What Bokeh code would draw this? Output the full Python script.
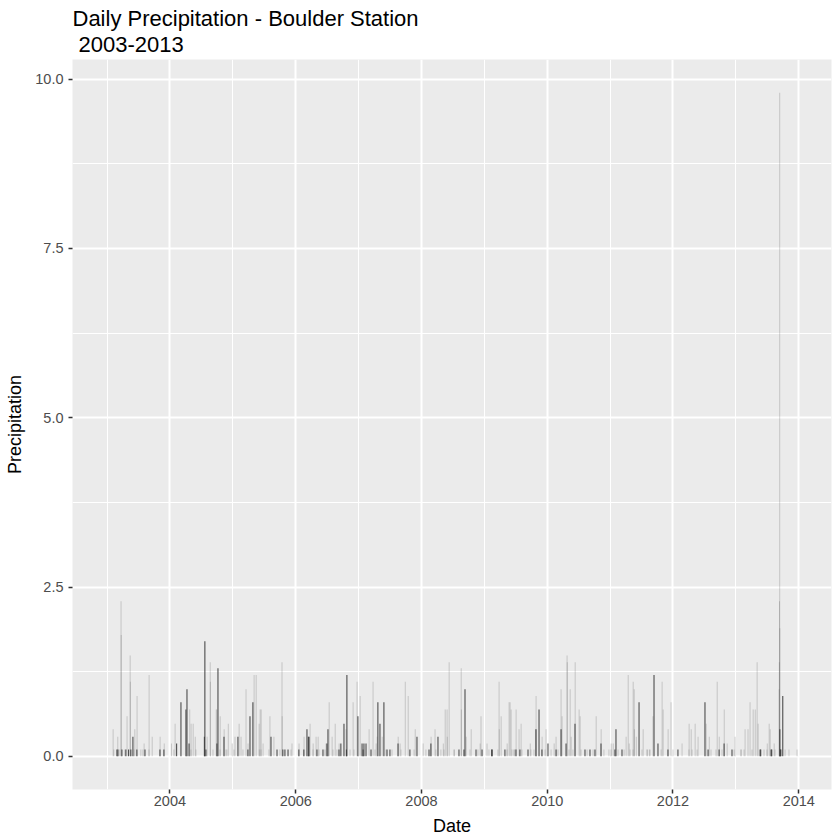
import pandas as pd
from bokeh.plotting import figure
from bokeh.models import (Range1d, FixedTicker, DatetimeTickFormatter,
                          NumeralTickFormatter, Title, ColumnDataSource)
from bokeh.embed import file_html
from bokeh.resources import INLINE

# ---- data (daily precipitation, inches) ----
light_dates = [
    "2003-03-23", "2003-03-24", "2003-05-15", "2003-05-16", "2003-06-24", "2003-04-27",
    "2003-09-02", "2003-02-05", "2003-03-04", "2003-06-11", "2003-08-04", "2003-09-20",
    "2003-11-05", "2003-11-29", "2004-01-10", "2004-01-31", "2004-04-25", "2004-05-03",
    "2004-05-15", "2004-05-27", "2004-08-04", "2004-08-22", "2004-08-23", "2004-09-26",
    "2004-09-30", "2004-10-19", "2004-11-11", "2004-12-05", "2004-12-28", "2005-01-13",
    "2005-02-06", "2005-02-17", "2005-03-18", "2005-03-30", "2005-05-04", "2005-05-16",
    "2005-06-02", "2005-06-08", "2005-06-14", "2005-06-25", "2005-08-04", "2005-08-27",
    "2005-10-13", "2005-10-14", "2005-12-10", "2006-01-20", "2006-02-18", "2006-03-25",
    "2006-04-12", "2006-04-29", "2006-05-11", "2006-06-26", "2006-07-14", "2006-07-31",
    "2006-08-18", "2006-09-10", "2006-10-20", "2006-11-30", "2006-12-23", "2007-01-10",
    "2007-03-03", "2007-03-26", "2007-04-13", "2007-04-19", "2007-05-18", "2007-08-19",
    "2007-08-30", "2007-09-29", "2007-10-16", "2007-11-26", "2008-01-11", "2008-02-26",
    "2008-03-20", "2008-05-07", "2008-05-18", "2008-05-29", "2008-05-30", "2008-06-10",
    "2008-07-10", "2008-08-19", "2008-08-20", "2008-09-17", "2008-10-16", "2008-12-07",
    "2008-12-12", "2009-01-16", "2009-03-27", "2009-03-28", "2009-04-08", "2009-05-13",
    "2009-05-24", "2009-05-30", "2009-06-05", "2009-06-23", "2009-07-04", "2009-07-21",
    "2009-08-02", "2009-09-24", "2009-10-28", "2009-10-29", "2009-12-02", "2009-12-25",
    "2010-02-10", "2010-02-21", "2010-03-22", "2010-03-28", "2010-04-26", "2010-04-27",
    "2010-05-14", "2010-05-20", "2010-06-12", "2010-07-05", "2010-07-11", "2010-10-12",
    "2010-11-10", "2011-01-07", "2011-01-19", "2011-04-04", "2011-04-16", "2011-04-22",
    "2011-05-15", "2011-05-21", "2011-05-22", "2011-06-02", "2011-07-12", "2011-08-05",
    "2011-08-17", "2011-09-07", "2011-10-30", "2011-11-05", "2011-12-04", "2011-12-21",
    "2012-02-23", "2012-04-04", "2012-04-16", "2012-05-09", "2012-05-26", "2012-07-12",
    "2012-07-30", "2012-09-14", "2012-09-26", "2012-10-25", "2012-11-11", "2012-12-27",
    "2013-01-31", "2013-02-23", "2013-03-12", "2013-03-24", "2013-04-11", "2013-04-23",
    "2013-05-04", "2013-05-10", "2013-07-02", "2013-07-13", "2013-07-19", "2013-08-11",
    "2013-09-09", "2013-09-12", "2013-09-11", "2013-09-13", "2013-09-10",
    # trace days
    "2003-02-09", "2003-03-16", "2003-04-14", "2003-06-06", "2003-07-16", "2003-07-28",
    "2003-09-01", "2004-01-24", "2004-05-02", "2004-05-31", "2004-09-07", "2004-10-18",
    "2004-11-21", "2004-11-27", "2005-01-07", "2005-02-28", "2005-06-03", "2005-06-13",
    "2005-07-29", "2005-10-01", "2005-12-04", "2006-04-11", "2006-05-16", "2006-06-19",
    "2006-08-05", "2006-08-28", "2006-11-12", "2006-12-05", "2007-04-06", "2007-06-09",
    "2007-07-14", "2007-09-04", "2007-11-19", "2008-01-27", "2008-03-25", "2008-04-23",
    "2008-05-11", "2008-07-08", "2008-10-09", "2008-11-24", "2009-01-27", "2009-03-20",
    "2009-05-12", "2009-06-10", "2009-06-22", "2009-08-07", "2009-09-28", "2009-10-16",
    "2009-12-19", "2010-01-23", "2010-03-04", "2010-05-07", "2010-05-30", "2010-07-16",
    "2010-08-20", "2010-09-24", "2010-11-26", "2010-12-25", "2011-01-06", "2011-02-16",
    "2011-03-23", "2011-04-27", "2011-05-14", "2011-07-05", "2011-08-03", "2011-08-21",
    "2011-10-24", "2012-01-01", "2012-04-03", "2012-04-21", "2012-05-20", "2012-08-09",
    "2012-09-07", "2012-10-12", "2012-12-21", "2013-01-30", "2013-02-17", "2013-04-04",
    "2013-06-13", "2013-06-30", "2013-08-16", "2013-10-13", "2013-11-05", "2013-12-22",
]
light_values = [
    2.29, 1.79, 1.49, 1.10, 0.89, 0.59,
    1.20, 0.40, 0.29, 0.40, 0.19, 0.29,
    0.29, 0.19, 0.19, 0.48, 0.69, 0.48,
    0.48, 0.29, 0.29, 1.39, 1.10, 0.69,
    0.69, 0.59, 0.40, 0.48, 0.19, 0.29,
    0.48, 0.29, 0.99, 0.19, 1.20, 1.20,
    0.48, 0.69, 0.69, 0.19, 0.59, 0.29,
    1.39, 0.59, 0.19, 0.19, 0.29, 0.48,
    0.19, 0.29, 0.29, 0.19, 0.80, 0.29,
    0.48, 0.19, 0.40, 0.80, 1.10, 0.89,
    0.40, 1.10, 0.19, 0.29, 0.29, 0.29,
    0.19, 1.10, 0.89, 0.40, 0.19, 0.29,
    0.40, 0.19, 0.69, 0.69, 0.29, 1.39,
    0.10, 1.30, 0.69, 0.29, 0.40, 0.19,
    0.59, 0.19, 1.10, 0.40, 0.59, 0.19,
    0.80, 0.80, 0.69, 0.10, 0.69, 0.40,
    0.48, 0.19, 0.89, 0.40, 0.29, 0.40,
    0.19, 0.29, 0.99, 0.59, 1.49, 1.39,
    0.99, 0.29, 1.39, 0.69, 0.59, 0.59,
    0.40, 0.19, 0.19, 0.29, 1.20, 0.19,
    1.10, 0.99, 0.40, 0.29, 0.40, 0.10,
    0.10, 0.59, 1.10, 0.69, 0.40, 0.80,
    0.19, 0.48, 0.40, 0.48, 0.29, 0.48,
    0.29, 1.10, 0.29, 0.69, 0.19, 0.29,
    0.10, 0.40, 0.40, 0.80, 0.69, 0.69,
    1.39, 0.48, 0.19, 0.48, 0.40, 0.19,
    0.99, 9.80, 2.29, 1.89, 1.39,
    0.10, 0.10, 0.10, 0.10, 0.10, 0.10,
    0.10, 0.10, 0.10, 0.10, 0.10, 0.10,
    0.10, 0.10, 0.10, 0.10, 0.10, 0.10,
    0.10, 0.10, 0.10, 0.10, 0.10, 0.10,
    0.10, 0.10, 0.10, 0.10, 0.10, 0.10,
    0.10, 0.10, 0.10, 0.10, 0.10, 0.10,
    0.10, 0.10, 0.10, 0.10, 0.10, 0.10,
    0.10, 0.10, 0.10, 0.10, 0.10, 0.10,
    0.10, 0.10, 0.10, 0.10, 0.10, 0.10,
    0.10, 0.10, 0.10, 0.10, 0.10, 0.10,
    0.10, 0.10, 0.10, 0.10, 0.10, 0.10,
    0.10, 0.10, 0.10, 0.10, 0.10, 0.10,
    0.10, 0.10, 0.10, 0.10, 0.10, 0.10,
    0.10, 0.10, 0.10, 0.10, 0.10, 0.10,
]

dark_dates = [
    "2003-02-27", "2003-03-05", "2003-03-28", "2003-04-20", "2003-05-06", "2003-05-19",
    "2003-05-31", "2003-06-23", "2003-08-09", "2003-11-04", "2003-11-27", "2004-02-09",
    "2004-03-05", "2004-04-03", "2004-04-09", "2004-04-21", "2004-07-19", "2004-07-22",
    "2004-07-28", "2004-09-30", "2004-10-06", "2004-11-10", "2005-01-30", "2005-03-29",
    "2005-04-10", "2005-04-27", "2005-08-10", "2005-09-14", "2005-10-18", "2005-10-30",
    "2005-11-17", "2006-01-19", "2006-02-17", "2006-03-07", "2006-03-15", "2006-03-19",
    "2006-05-04", "2006-06-08", "2006-07-01", "2006-07-07", "2006-09-09", "2006-09-20",
    "2006-10-08", "2006-10-22", "2006-10-25", "2006-12-28", "2007-01-21", "2007-01-27",
    "2007-02-01", "2007-02-13", "2007-03-14", "2007-04-23", "2007-05-05", "2007-05-28",
    "2007-06-15", "2007-07-02", "2007-08-18", "2007-10-26", "2007-12-06", "2008-02-14",
    "2008-02-25", "2008-04-06", "2008-08-06", "2008-09-04", "2008-09-10", "2008-11-13",
    "2008-12-18", "2009-02-12", "2009-02-15", "2009-04-30", "2009-07-03", "2009-07-26",
    "2009-09-11", "2009-10-27", "2009-11-14", "2009-12-01", "2010-01-05", "2010-02-21",
    "2010-03-22", "2010-04-20", "2010-06-11", "2010-08-08", "2010-09-06", "2010-10-05",
    "2010-11-09", "2011-01-29", "2011-02-04", "2011-03-11", "2011-06-18", "2011-09-13",
    "2011-10-06", "2011-12-03", "2012-01-30", "2012-07-05", "2012-07-23", "2012-09-25",
    "2012-10-24", "2012-12-09", "2013-05-21", "2013-05-25", "2013-07-24", "2013-07-28",
    "2013-09-13", "2013-09-16", "2013-09-19", "2013-09-30",
]
dark_values = [
    0.10, 0.10, 0.10, 0.10, 0.10, 0.10,
    0.29, 0.10, 0.10, 0.10, 0.10, 0.19,
    0.80, 0.69, 0.99, 0.19, 0.29, 1.70,
    0.10, 0.19, 1.30, 0.29, 0.29, 0.10,
    0.59, 0.80, 0.29, 0.10, 0.10, 0.10,
    0.10, 0.10, 0.10, 0.40, 0.29, 0.29,
    0.10, 0.10, 0.19, 0.40, 0.10, 0.19,
    0.48, 0.10, 1.20, 0.59, 0.19, 0.10,
    0.19, 0.19, 0.10, 0.80, 0.48, 0.80,
    0.10, 0.10, 0.19, 0.10, 0.29, 0.10,
    0.19, 0.29, 0.10, 0.10, 0.99, 0.10,
    0.10, 0.10, 0.10, 0.10, 0.10, 0.10,
    0.10, 0.40, 0.69, 0.10, 0.19, 0.10,
    0.40, 0.19, 0.48, 0.10, 0.10, 0.10,
    0.19, 0.10, 0.40, 0.10, 0.80, 1.20,
    0.19, 0.10, 0.10, 0.80, 0.10, 0.10,
    0.19, 0.10, 0.10, 0.10, 0.10, 0.10,
    0.40, 0.10, 0.10, 0.89,
]

x_major_years = [2004, 2006, 2008, 2010, 2012, 2014]
x_minor_years = [2003, 2005, 2007, 2009, 2011, 2013]
y_major_ticks = [0.0, 2.5, 5.0, 7.5, 10.0]
y_minor_ticks = [1.25, 3.75, 6.25, 8.75]

title_line1 = "Daily Precipitation - Boulder Station"
title_line2 = "2003-2013"
x_title = "Date"
y_title = "Precipitation"

# ---- build ----
DAY_MS = 86400000
BAR_W = 5.8 * DAY_MS


def ms(year):
    return pd.Timestamp(f"{year}-01-01").value // 10**6


light_src = ColumnDataSource(dict(x=pd.to_datetime(light_dates), top=light_values))
dark_src = ColumnDataSource(dict(x=pd.to_datetime(dark_dates), top=dark_values))

FONT = "Liberation Sans"

p = figure(width=840, height=840, x_axis_type="datetime",
           output_backend="svg", toolbar_location=None, title=None,
           x_range=Range1d(pd.Timestamp("2002-06-14"), pd.Timestamp("2014-07-10")),
           y_range=Range1d(-0.49, 10.29),
           min_border_left=72, min_border_right=9,
           min_border_top=59, min_border_bottom=51)

p.background_fill_color = "#EBEBEB"
p.border_fill_color = "white"
p.outline_line_color = None

p.vbar(x="x", top="top", bottom=0, width=BAR_W, source=light_src,
       fill_color="#595959", fill_alpha=0.26, line_color=None)
p.vbar(x="x", top="top", bottom=0, width=BAR_W, source=dark_src,
       fill_color="#3d3d3d", fill_alpha=1.0, line_color=None)

# ticks / grid
p.xaxis.ticker = FixedTicker(ticks=[ms(y) for y in x_major_years],
                             minor_ticks=[ms(y) for y in x_minor_years])
fmt = "%Y"
p.xaxis.formatter = DatetimeTickFormatter(years=fmt, months=fmt, days=fmt,
                                          hours=fmt, minutes=fmt, seconds=fmt,
                                          milliseconds=fmt, microseconds=fmt)
p.yaxis.ticker = FixedTicker(ticks=y_major_ticks, minor_ticks=y_minor_ticks)
p.yaxis.formatter = NumeralTickFormatter(format="0.0")

for g in (p.xgrid, p.ygrid):
    g.grid_line_color = "white"
    g.grid_line_width = 2
    g.minor_grid_line_color = "white"
    g.minor_grid_line_width = 1

for ax in (p.xaxis, p.yaxis):
    ax.axis_line_color = None
    ax.major_tick_line_color = "#333333"
    ax.major_tick_line_width = 1.5
    ax.major_tick_out = 4
    ax.major_tick_in = 0
    ax.minor_tick_line_color = None
    ax.major_label_text_font = FONT
    ax.major_label_text_font_size = "14.5px"
    ax.major_label_text_color = "#4D4D4D"
    ax.axis_label_text_font = FONT
    ax.axis_label_text_font_size = "18px"
    ax.axis_label_text_font_style = "normal"
    ax.axis_label_text_color = "black"

p.xaxis.axis_label = x_title
p.xaxis.major_label_standoff = 2
p.xaxis.axis_label_standoff = 7
p.yaxis.axis_label = y_title
p.yaxis.major_label_standoff = 5
p.yaxis.axis_label_standoff = 7

sub = Title(text=title_line2, align="left", offset=6, standoff=12,
            vertical_align="top",
            text_font=FONT, text_font_size="22px", text_font_style="normal",
            text_color="black")
main = Title(text=title_line1, align="left", offset=0, standoff=0,
             text_font=FONT, text_font_size="22px", text_font_style="normal",
             text_color="black")
p.add_layout(sub, "above")
p.add_layout(main, "above")

open("out.html", "w").write(file_html(p, INLINE))
